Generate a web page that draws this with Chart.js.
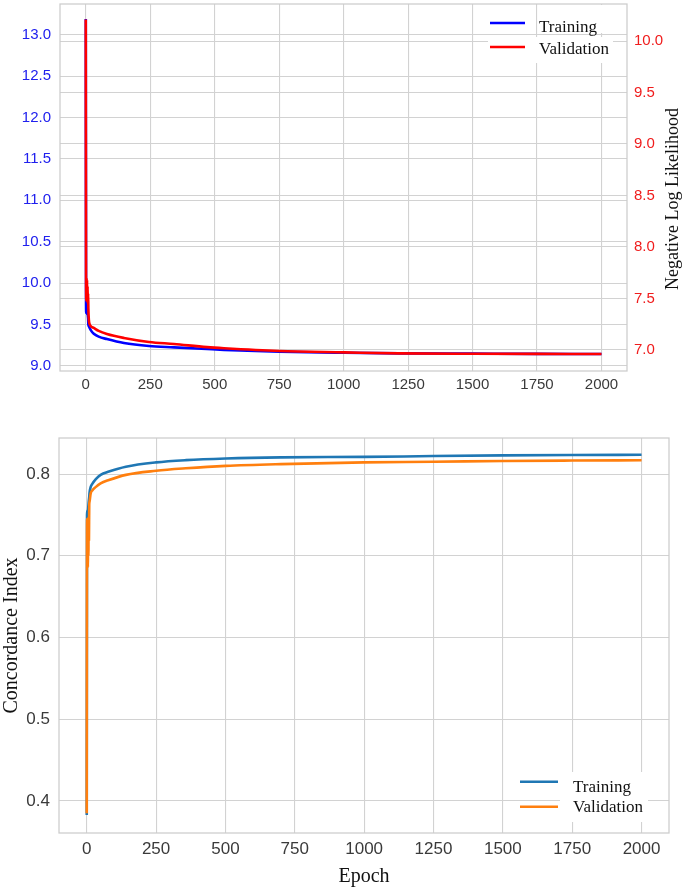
<!DOCTYPE html>
<html>
<head>
<meta charset="utf-8">
<script src="https://cdn.jsdelivr.net/npm/chart.js@4.4.1/dist/chart.umd.min.js"></script>
<style>
  html, body { margin: 0; padding: 0; background: #ffffff; }
  #wrap { position: relative; width: 685px; height: 887px; overflow: hidden; }
  #c1 { position: absolute; left: 0; top: 0; }
  #c2 { position: absolute; left: 0; top: 400px; }
</style>
</head>
<body>
<div id="wrap">
  <canvas id="c1" width="685" height="400"></canvas>
  <canvas id="c2" width="685" height="487"></canvas>
</div>
<script>
// ---------------- Data ----------------
const xTicks = [0, 250, 500, 750, 1000, 1250, 1500, 1750, 2000];

// Top panel: Negative Log Likelihood
const nllEpochs = [0, 1, 2, 3, 4, 5, 6, 7, 8, 9, 10, 12, 15, 20, 31, 50, 82, 148, 245, 342, 470, 536, 750, 1003, 1216, 1500, 1750, 2000];
const trainNLL = [13.19, 9.74, 9.64, 9.72, 9.63, 9.70, 9.62, 9.66, 9.61, 9.58, 9.50, 9.48, 9.46, 9.43, 9.39, 9.355, 9.325, 9.277, 9.241, 9.225, 9.205, 9.195, 9.173, 9.160, 9.153, 9.150, 9.147, 9.145];
const valNLL = [10.21, 7.72, 7.48, 7.70, 7.50, 7.68, 7.46, 7.62, 7.45, 7.55, 7.40, 7.29, 7.25, 7.23, 7.214, 7.185, 7.155, 7.117, 7.078, 7.058, 7.028, 7.017, 6.990, 6.977, 6.967, 6.963, 6.962, 6.961];
const nllLeftTicks = [9.0, 9.5, 10.0, 10.5, 11.0, 11.5, 12.0, 12.5, 13.0];
const nllRightTicks = [7.0, 7.5, 8.0, 8.5, 9.0, 9.5, 10.0];

// Bottom panel: Concordance Index
const ciEpochs = [0, 1, 2, 3, 4, 5, 6, 7, 8, 9, 10, 14, 20, 32, 50, 80, 141, 250, 357, 501, 700, 1000, 1250, 1500, 1750, 2000];
const trainCI = [0.383, 0.750, 0.755, 0.748, 0.753, 0.757, 0.762, 0.766, 0.769, 0.772, 0.777, 0.784, 0.788, 0.7935, 0.799, 0.803, 0.809, 0.8143, 0.817, 0.819, 0.8204, 0.821, 0.822, 0.8228, 0.8233, 0.8236];
const valCI = [0.385, 0.745, 0.690, 0.742, 0.686, 0.738, 0.700, 0.748, 0.720, 0.762, 0.766, 0.776, 0.780, 0.784, 0.7886, 0.7927, 0.799, 0.804, 0.807, 0.810, 0.8122, 0.8143, 0.815, 0.816, 0.8165, 0.8168];
const ciTicks = [0.4, 0.5, 0.6, 0.7, 0.8];

const seriesLabels = ['Training', 'Validation'];

// ---------------- Helpers ----------------
const SANS = '"Liberation Sans", Arial, sans-serif';
const SERIF = '"Liberation Serif", "Times New Roman", serif';
const GRID = '#d2d2d2';

function pts(xs, ys) { return xs.map((x, i) => ({ x: x, y: ys[i] })); }
function fixTicks(list) { return s => { s.ticks = list.map(v => ({ value: v })); }; }
function noPad(s) { s.paddingTop = 0; s.paddingBottom = 0; s.paddingLeft = 0; s.paddingRight = 0; }

const framePlugin = {
  id: 'frame',
  beforeDatasetsDraw(chart) {
    const a = chart.chartArea, ctx = chart.ctx;
    ctx.save();
    ctx.strokeStyle = '#cccccc';
    ctx.lineWidth = 1.25;
    ctx.strokeRect(a.left, a.top, a.right - a.left, a.bottom - a.top);
    ctx.restore();
  }
};

function legendPlugin(cfg) {
  return {
    id: 'customLegend',
    afterDatasetsDraw(chart) {
      const ctx = chart.ctx;
      ctx.save();
      ctx.fillStyle = '#ffffff';
      cfg.boxes.forEach(b => ctx.fillRect(b[0], b[1], b[2], b[3]));
      cfg.items.forEach(it => {
        ctx.strokeStyle = it.color;
        ctx.lineWidth = 2.6;
        ctx.beginPath();
        ctx.moveTo(cfg.lineX0, it.lineY);
        ctx.lineTo(cfg.lineX1, it.lineY);
        ctx.stroke();
        ctx.fillStyle = '#111111';
        ctx.font = cfg.fontSize + 'px ' + SERIF;
        ctx.textAlign = 'left';
        ctx.textBaseline = 'alphabetic';
        ctx.fillText(it.text, cfg.textX, it.baseY);
      });
      ctx.restore();
    }
  };
}

const rightTitlePlugin = {
  id: 'rightTitle',
  afterDraw(chart) {
    const ctx = chart.ctx;
    ctx.save();
    ctx.translate(673, 199);
    ctx.rotate(-Math.PI / 2);
    ctx.font = '18px ' + SERIF;
    ctx.fillStyle = '#111111';
    ctx.textAlign = 'center';
    ctx.textBaseline = 'middle';
    ctx.fillText('Negative Log Likelihood', 0, 0);
    ctx.restore();
  }
};

// ---------------- Top chart ----------------
new Chart(document.getElementById('c1'), {
  type: 'line',
  data: {
    datasets: [
      { label: seriesLabels[0], data: pts(nllEpochs, trainNLL), yAxisID: 'yL', borderColor: '#0000ff', order: 1,
        borderWidth: 2.6, pointRadius: 0, cubicInterpolationMode: 'monotone', fill: false },
      { label: seriesLabels[1], data: pts(nllEpochs, valNLL), yAxisID: 'yR', borderColor: '#ff0000', order: 0,
        borderWidth: 2.6, pointRadius: 0, cubicInterpolationMode: 'monotone', fill: false }
    ]
  },
  options: {
    responsive: false, animation: false, devicePixelRatio: 1,
    layout: { padding: { top: 4, left: 0, right: 0, bottom: 0 } },
    plugins: { legend: { display: false }, tooltip: { enabled: false } },
    scales: {
      x: {
        type: 'linear', min: -100, max: 2099,
        afterBuildTicks: fixTicks(xTicks),
        afterFit: s => { s.height = 29; noPad(s); },
        grid: { color: GRID, lineWidth: 1.1, drawTicks: false },
        border: { display: false },
        ticks: { padding: 5, autoSkip: false, maxRotation: 0, color: '#3a3a3a',
                 font: { family: SANS, size: 15 }, callback: v => String(v) }
      },
      yL: {
        type: 'linear', position: 'left', min: 8.94, max: 13.37,
        afterBuildTicks: fixTicks(nllLeftTicks),
        afterFit: s => { s.width = 60; noPad(s); },
        grid: { color: GRID, lineWidth: 1.1, drawTicks: false },
        border: { display: false },
        ticks: { padding: 9, color: '#2020ee', font: { family: SANS, size: 15 }, callback: v => Number(v).toFixed(1) }
      },
      yR: {
        type: 'linear', position: 'right', min: 6.796, max: 10.36,
        afterBuildTicks: fixTicks(nllRightTicks),
        afterFit: s => { s.width = 58; noPad(s); },
        grid: { color: GRID, lineWidth: 1.1, drawTicks: false },
        border: { display: false },
        ticks: { padding: 7, color: '#f01c1c', font: { family: SANS, size: 15 }, callback: v => Number(v).toFixed(1) }
      }
    }
  },
  plugins: [framePlugin, rightTitlePlugin, legendPlugin({
    boxes: [[539, 5, 74, 28], [488, 37, 125, 26]],
    lineX0: 490, lineX1: 525, textX: 539, fontSize: 17,
    items: [
      { text: seriesLabels[0], color: '#0000ff', lineY: 23, baseY: 32 },
      { text: seriesLabels[1], color: '#ff0000', lineY: 47, baseY: 54 }
    ]
  })]
});

// ---------------- Bottom chart ----------------
new Chart(document.getElementById('c2'), {
  type: 'line',
  data: {
    datasets: [
      { label: seriesLabels[0], data: pts(ciEpochs, trainCI), borderColor: '#1f77b4', order: 1,
        borderWidth: 2.6, pointRadius: 0, cubicInterpolationMode: 'monotone', fill: false },
      { label: seriesLabels[1], data: pts(ciEpochs, valCI), borderColor: '#ff7f0e', order: 0,
        borderWidth: 2.6, pointRadius: 0, cubicInterpolationMode: 'monotone', fill: false }
    ]
  },
  options: {
    responsive: false, animation: false, devicePixelRatio: 1,
    layout: { padding: { top: 38, left: 0, right: 16, bottom: 0 } },
    plugins: { legend: { display: false }, tooltip: { enabled: false } },
    scales: {
      x: {
        type: 'linear', min: -100, max: 2099,
        afterBuildTicks: fixTicks(xTicks),
        afterFit: s => { s.height = 54; noPad(s); },
        grid: { color: GRID, lineWidth: 1.1, drawTicks: false },
        border: { display: false },
        ticks: { padding: 6, autoSkip: false, maxRotation: 0, color: '#3a3a3a',
                 font: { family: SANS, size: 17 }, callback: v => String(v) },
        title: { display: true, text: 'Epoch', color: '#111111', padding: { top: 0, bottom: 0 },
                 font: { family: SERIF, size: 20, lineHeight: 1 } }
      },
      y: {
        type: 'linear', position: 'left', min: 0.3609, max: 0.8441,
        afterBuildTicks: fixTicks(ciTicks),
        afterFit: s => { s.width = 59; noPad(s); },
        grid: { color: GRID, lineWidth: 1.1, drawTicks: false },
        border: { display: false },
        ticks: { padding: 9, color: '#3a3a3a', font: { family: SANS, size: 17 }, callback: v => Number(v).toFixed(1) },
        title: { display: true, text: 'Concordance Index', color: '#111111', padding: { top: 0, bottom: 0 },
                 font: { family: SERIF, size: 20, lineHeight: 1.2 } }
      }
    }
  },
  plugins: [framePlugin, legendPlugin({
    boxes: [[560, 372, 88, 50]],
    lineX0: 520, lineX1: 558, textX: 573, fontSize: 17,
    items: [
      { text: seriesLabels[0], color: '#1f77b4', lineY: 381.7, baseY: 391.7 },
      { text: seriesLabels[1], color: '#ff7f0e', lineY: 406.7, baseY: 412.3 }
    ]
  })]
});
</script>
</body>
</html>
